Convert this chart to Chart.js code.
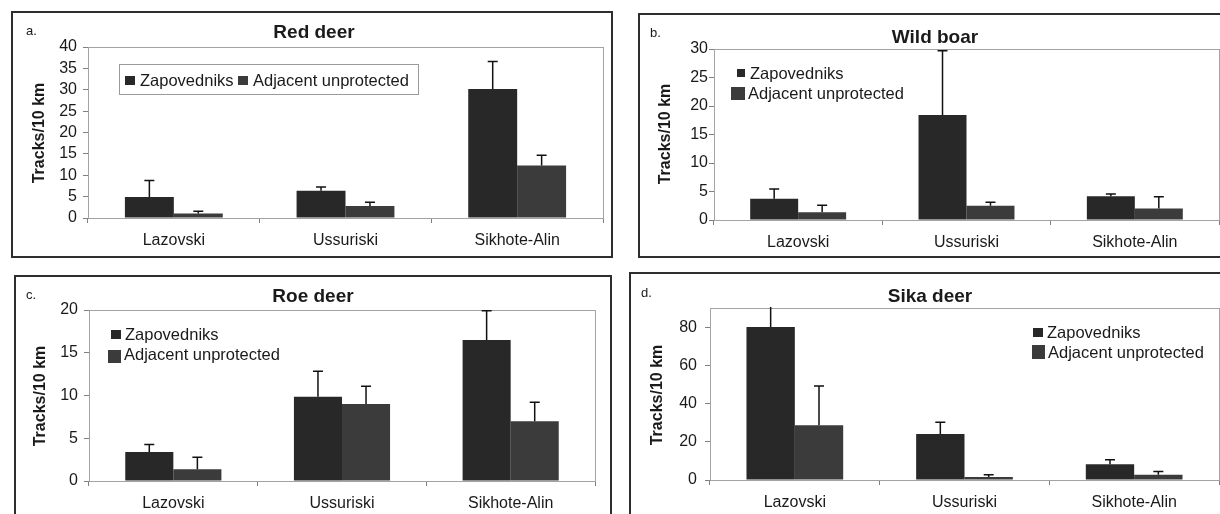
<!DOCTYPE html>
<html>
<head>
<meta charset="utf-8">
<script src="https://cdn.jsdelivr.net/npm/chart.js@4.4.1/dist/chart.umd.min.js"></script>
<style>
  html, body { margin: 0; padding: 0; background: #fff; overflow: hidden; }
  body { width: 1220px; height: 514px; position: relative; font-family: 'Liberation Sans', Arial, sans-serif; color: #1a1a1a; }
  canvas { position: absolute; }
  .frame { position: absolute; border: 2px solid #2e2e2e; box-sizing: border-box; pointer-events: none; }
  .txt { position: absolute; white-space: nowrap; line-height: 20px; height: 20px; }
  .title { font-weight: bold; font-size: 19px; transform: translateX(-50%); }
  .letter { font-size: 13px; }
  .ytitle { font-weight: bold; font-size: 16px; transform: translate(-50%, -50%) rotate(-90deg); }
  .leg { font-size: 16.5px; }
  .mark { position: absolute; }
  .legbox { position: absolute; border: 1px solid #9a9a9a; box-sizing: border-box; background: #fff; }
</style>
</head>
<body>
<script>
// shared categories / series
const categories = ['Lazovski', 'Ussuriski', 'Sikhote-Alin'];
const seriesNames = ['Zapovedniks', 'Adjacent unprotected'];
const seriesColors = ['#282828', '#3b3b3b'];

// a. Red deer (tracks/10 km, mean and upper error)
const redDeerZap = [4.9, 6.4, 30.2];
const redDeerZapErr = [3.9, 0.85, 6.4];
const redDeerAdj = [1.05, 2.8, 12.3];
const redDeerAdjErr = [0.55, 0.9, 2.4];
const redDeerTicks = [0, 5, 10, 15, 20, 25, 30, 35, 40];

// b. Wild boar
const wildBoarZap = [3.75, 18.4, 4.15];
const wildBoarZapErr = [1.7, 11.3, 0.4];
const wildBoarAdj = [1.35, 2.5, 2.0];
const wildBoarAdjErr = [1.25, 0.6, 2.1];
const wildBoarTicks = [0, 5, 10, 15, 20, 25, 30];

// c. Roe deer
const roeDeerZap = [3.4, 9.86, 16.5];
const roeDeerZapErr = [0.88, 2.97, 3.4];
const roeDeerAdj = [1.37, 9.0, 6.98];
const roeDeerAdjErr = [1.42, 2.07, 2.22];
const roeDeerTicks = [0, 5, 10, 15, 20];

// d. Sika deer
const sikaDeerZap = [80, 24.1, 8.2];
const sikaDeerZapErr = [12, 6.1, 2.4];
const sikaDeerAdj = [28.7, 1.6, 2.7];
const sikaDeerAdjErr = [20.5, 1.2, 1.8];
const sikaDeerTicks = [0, 20, 40, 60, 80];

const FONT = "'Liberation Sans', Arial, sans-serif";

function addText(cls, text, x, y) {
    const d = document.createElement('div');
    d.className = 'txt ' + cls;
    d.textContent = text;
    d.style.left = x + 'px';
    d.style.top = y + 'px';
    document.body.appendChild(d);
    return d;
}

function addMark(x, y, w, h, color) {
    const m = document.createElement('div');
    m.className = 'mark';
    m.style.left = x + 'px';
    m.style.top = y + 'px';
    m.style.width = w + 'px';
    m.style.height = h + 'px';
    m.style.background = color;
    document.body.appendChild(m);
}

const plotFrame = {
    id: 'plotFrame',
    beforeDatasetsDraw(chart) {
        const a = chart.chartArea;
        const ctx = chart.ctx;
        ctx.save();
        ctx.strokeStyle = '#a3a3a3';
        ctx.lineWidth = 1;
        ctx.strokeRect(Math.round(a.left) + 0.5, Math.round(a.top) + 0.5,
                       Math.round(a.right - a.left), Math.round(a.bottom - a.top));
        ctx.restore();
    }
};

const errorBars = {
    id: 'errorBars',
    afterDatasetsDraw(chart) {
        const ctx = chart.ctx;
        const yScale = chart.scales.y;
        const area = chart.chartArea;
        ctx.save();
        ctx.beginPath();
        ctx.rect(area.left, area.top - 1, area.right - area.left, area.bottom - area.top + 1);
        ctx.clip();
        ctx.strokeStyle = '#111';
        ctx.lineWidth = 1.5;
        chart.data.datasets.forEach((ds, i) => {
            const meta = chart.getDatasetMeta(i);
            meta.data.forEach((bar, j) => {
                const top = yScale.getPixelForValue(ds.data[j] + ds.errors[j]);
                ctx.beginPath();
                ctx.moveTo(bar.x, bar.y);
                ctx.lineTo(bar.x, top);
                ctx.moveTo(bar.x - 5, top);
                ctx.lineTo(bar.x + 5, top);
                ctx.stroke();
            });
        });
        ctx.restore();
    }
};

function drawPanel(p) {
    const cv = document.createElement('canvas');
    cv.width = p.box.w;
    cv.height = p.box.h;
    cv.style.left = p.box.x + 'px';
    cv.style.top = p.box.y + 'px';
    cv.style.width = p.box.w + 'px';
    cv.style.height = p.box.h + 'px';
    document.body.appendChild(cv);

    const fr = document.createElement('div');
    fr.className = 'frame';
    fr.style.left = p.box.x + 'px';
    fr.style.top = p.box.y + 'px';
    fr.style.width = p.box.w + 'px';
    fr.style.height = p.box.h + 'px';
    document.body.appendChild(fr);

    const data = {
        labels: categories,
        datasets: [
            { label: seriesNames[0], data: p.zap, errors: p.zapErr, backgroundColor: seriesColors[0] },
            { label: seriesNames[1], data: p.adj, errors: p.adjErr, backgroundColor: seriesColors[1] }
        ]
    };

    new Chart(cv, {
        type: 'bar',
        data: data,
        options: {
            responsive: false,
            animation: false,
            events: [],
            datasets: { bar: { barPercentage: 1, categoryPercentage: 0.57, borderWidth: 0 } },
            layout: {
                padding: {
                    left: 0,
                    top: p.plot.t - p.box.y,
                    right: p.box.x + p.box.w - p.plot.r,
                    bottom: 0
                }
            },
            plugins: { legend: { display: false }, tooltip: { enabled: false }, title: { display: false } },
            scales: {
                x: {
                    afterFit: s => { s.height = p.box.y + p.box.h - p.plot.b; },
                    grid: { offset: true, drawOnChartArea: false, tickLength: 5, color: '#808080' },
                    border: { color: '#808080' },
                    ticks: { font: { family: FONT, size: 16 }, color: '#1a1a1a', padding: 8 }
                },
                y: {
                    min: 0,
                    max: p.yMax,
                    afterFit: s => { s.width = p.plot.l - p.box.x; },
                    afterBuildTicks: s => { s.ticks = p.ticks.map(v => ({ value: v })); },
                    grid: { drawOnChartArea: false, tickLength: 5, color: '#808080' },
                    border: { color: '#808080' },
                    ticks: { font: { family: FONT, size: 16 }, color: '#1a1a1a', padding: p.tickPad, autoSkip: false }
                }
            }
        },
        plugins: [plotFrame, errorBars]
    });

    addText('title', p.title, p.titleX, p.titleY - 10);
    addText('letter', p.letter, p.letterX, p.letterY - 10);
    const yt = addText('ytitle', 'Tracks/10 km', p.yTitleX, p.yTitleY);
    yt.style.top = p.yTitleY + 'px';
}

drawPanel({
    box: { x: 11, y: 11, w: 602, h: 247 },
    plot: { l: 88, t: 47, r: 603, b: 218 },
    zap: redDeerZap, zapErr: redDeerZapErr, adj: redDeerAdj, adjErr: redDeerAdjErr,
    ticks: redDeerTicks, yMax: 40, tickPad: 6,
    title: 'Red deer', titleX: 314, titleY: 32,
    letter: 'a.', letterX: 26, letterY: 31,
    yTitleX: 39, yTitleY: 133
});
drawPanel({
    box: { x: 638, y: 13, w: 600, h: 245 },
    plot: { l: 714, t: 49, r: 1219, b: 220 },
    zap: wildBoarZap, zapErr: wildBoarZapErr, adj: wildBoarAdj, adjErr: wildBoarAdjErr,
    ticks: wildBoarTicks, yMax: 30, tickPad: 1,
    title: 'Wild boar', titleX: 935, titleY: 37,
    letter: 'b.', letterX: 650, letterY: 33,
    yTitleX: 665, yTitleY: 134
});
drawPanel({
    box: { x: 14, y: 275, w: 598, h: 250 },
    plot: { l: 89, t: 310, r: 595, b: 481 },
    zap: roeDeerZap, zapErr: roeDeerZapErr, adj: roeDeerAdj, adjErr: roeDeerAdjErr,
    ticks: roeDeerTicks, yMax: 20, tickPad: 6,
    title: 'Roe deer', titleX: 313, titleY: 296,
    letter: 'c.', letterX: 26, letterY: 295,
    yTitleX: 40, yTitleY: 396
});
drawPanel({
    box: { x: 629, y: 272, w: 610, h: 253 },
    plot: { l: 710, t: 308, r: 1219, b: 480 },
    zap: sikaDeerZap, zapErr: sikaDeerZapErr, adj: sikaDeerAdj, adjErr: sikaDeerAdjErr,
    ticks: sikaDeerTicks, yMax: 90, tickPad: 8,
    title: 'Sika deer', titleX: 930, titleY: 296,
    letter: 'd.', letterX: 641, letterY: 293,
    yTitleX: 657, yTitleY: 395
});

// legends
const lb = document.createElement('div');
lb.className = 'legbox';
lb.style.left = '119px'; lb.style.top = '64px'; lb.style.width = '300px'; lb.style.height = '31px';
document.body.appendChild(lb);
addMark(125, 76, 10, 9, seriesColors[0]);
addText('leg', seriesNames[0], 140, 70);
addMark(238, 76, 10, 9, seriesColors[1]);
addText('leg', seriesNames[1], 253, 70);

addMark(737, 69, 8, 8, seriesColors[0]);
addText('leg', seriesNames[0], 750, 63);
addMark(731, 87, 14, 13, seriesColors[1]);
addText('leg', seriesNames[1], 748, 83);

addMark(111, 330, 10, 9, seriesColors[0]);
addText('leg', seriesNames[0], 125, 324);
addMark(108, 350, 13, 13, seriesColors[1]);
addText('leg', seriesNames[1], 124, 344);

addMark(1033, 328, 10, 9, seriesColors[0]);
addText('leg', seriesNames[0], 1047, 322);
addMark(1032, 345, 13, 14, seriesColors[1]);
addText('leg', seriesNames[1], 1048, 342);
</script>
</body>
</html>
